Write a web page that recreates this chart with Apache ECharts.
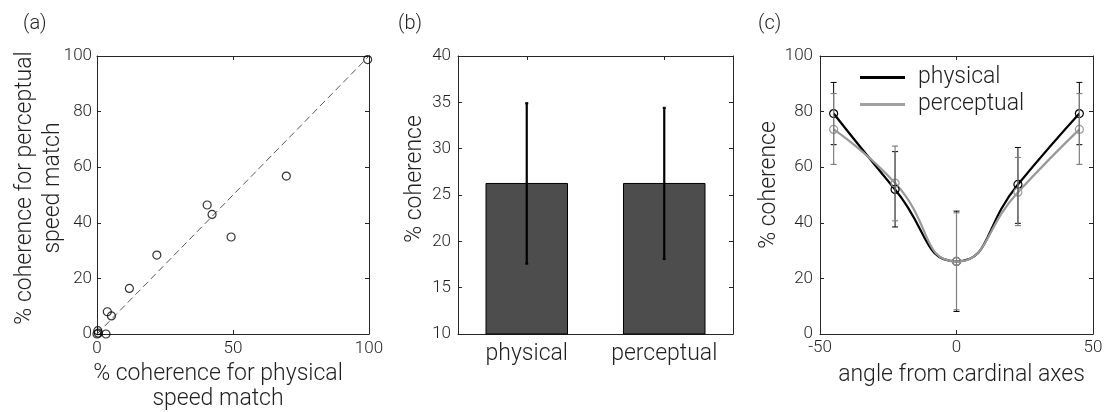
<!DOCTYPE html>
<html><head><meta charset="utf-8">
<script src="https://cdn.jsdelivr.net/npm/echarts@6/dist/echarts.min.js"></script>
<style>html,body{margin:0;padding:0;background:#fff}#c{width:1104px;height:412px}</style>
</head><body><div id="c"></div>
<script>
// ---- panel (a) data ----
const scatterPhysical   = [0, 0.3, 0.5, 3.3, 3.8, 5.3, 11.9, 22.0, 40.5, 42.3, 49.3, 69.6, 99.5];
const scatterPerceptual = [0, 1.2, 0.3, 0.0, 8.0, 6.5, 16.4, 28.4, 46.4, 43.0, 34.9, 56.8, 98.7];
const identityLine = [0, 100];
// ---- panel (b) data ----
const barCategories = ['physical', 'perceptual'];
const barMeans = [26.3, 26.3];
const barLow = [17.6, 18.1];
const barHigh = [34.9, 34.4];
// ---- panel (c) data ----
const angles = [-45, -22.5, 0, 22.5, 45];
const physMean = [79.3, 52.0, 26.1, 53.8, 79.3];
const physLow  = [68.1, 38.5, 8.1, 39.8, 68.1];
const physHigh = [90.5, 65.6, 44.2, 67.1, 90.5];
const percMean = [73.6, 54.3, 26.1, 51.0, 73.6];
const percLow  = [61.0, 40.7, 8.7, 39.0, 61.0];
const percHigh = [86.5, 67.6, 43.6, 63.5, 86.5];

const FONT = 'Roboto';
const FW = 300;
const TXT = '#1f1f1f';

function errRender(capHalf, color, lw) {
  return function (params, api) {
    const x = api.value(0);
    const lo = api.coord([x, api.value(1)]);
    const hi = api.coord([x, api.value(2)]);
    const style = { stroke: color, lineWidth: lw };
    return { type: 'group', children: [
      { type: 'line', shape: { x1: lo[0], y1: lo[1], x2: hi[0], y2: hi[1] }, style },
      { type: 'line', shape: { x1: lo[0] - capHalf, y1: lo[1], x2: lo[0] + capHalf, y2: lo[1] }, style },
      { type: 'line', shape: { x1: hi[0] - capHalf, y1: hi[1], x2: hi[0] + capHalf, y2: hi[1] }, style }
    ]};
  };
}

function ts(size, extra) {
  return Object.assign({ fontFamily: FONT, fontSize: size, fontWeight: FW, color: TXT }, extra || {});
}
function boxAxis(extra) {
  return Object.assign({
    axisLine: { show: true, onZero: false, lineStyle: { color: '#262626', width: 1 } },
    axisTick: { show: true, inside: true, length: 4, lineStyle: { color: '#262626' } },
    axisLabel: ts(17),
    splitLine: { show: false },
    nameTextStyle: ts(23)
  }, extra);
}
function mirror(extra) {
  const a = boxAxis(extra);
  a.axisLabel = { show: false };
  return a;
}

const chart = echarts.init(document.getElementById('c'), null, { renderer: 'canvas' });
chart.setOption({
  animation: false,
  backgroundColor: '#fff',
  title: [
    { text: '(a)', left: 23, top: 14, padding: 0, textStyle: ts(20) },
    { text: '(b)', left: 398, top: 14, padding: 0, textStyle: ts(20) },
    { text: '(c)', left: 758, top: 14, padding: 0, textStyle: ts(20) }
  ],
  grid: [
    { left: 97, top: 56, width: 272, height: 278, outerBoundsMode: 'none', containLabel: false },
    { left: 458, top: 56, width: 275, height: 278, outerBoundsMode: 'none', containLabel: false },
    { left: 820, top: 56, width: 273, height: 278, outerBoundsMode: 'none', containLabel: false }
  ],
  legend: {
    orient: 'vertical', left: 860, top: 66, padding: 0, icon: 'rect', itemWidth: 45, itemHeight: 3, itemGap: 4,
    selectedMode: false,
    textStyle: ts(23, { padding: [0, 0, 0, 8] }),
    data: [
      { name: 'physical', itemStyle: { color: '#000', borderWidth: 0 } },
      { name: 'perceptual', itemStyle: { color: '#a0a0a0', borderWidth: 0 } }
    ]
  },
  xAxis: [
    boxAxis({ type: 'value', gridIndex: 0, min: 0, max: 100, interval: 50, position: 'bottom',
      axisLabel: ts(17, { margin: 6 }),
      name: '% coherence for physical\nspeed match', nameLocation: 'middle', nameGap: 26,
      nameTextStyle: ts(23, { lineHeight: 25, padding: [0, 30, 0, 0] }) }),
    mirror({ type: 'value', gridIndex: 0, min: 0, max: 100, interval: 50, position: 'top' }),
    boxAxis({ type: 'category', gridIndex: 1, data: barCategories, position: 'bottom',
      axisTick: { show: true, inside: true, length: 4, alignWithLabel: true, lineStyle: { color: '#262626' } },
      axisLabel: ts(23, { margin: 9, interval: 0 }) }),
    mirror({ type: 'category', gridIndex: 1, data: barCategories, position: 'top',
      axisTick: { show: true, inside: true, length: 4, alignWithLabel: true, lineStyle: { color: '#262626' } } }),
    boxAxis({ type: 'value', gridIndex: 2, min: -50, max: 50, interval: 50, position: 'bottom',
      axisLabel: ts(17, { margin: 5 }),
      name: 'angle from cardinal axes', nameLocation: 'middle', nameGap: 30,
      nameTextStyle: ts(23, { padding: [0, 0, 0, 10] }) }),
    mirror({ type: 'value', gridIndex: 2, min: -50, max: 50, interval: 50, position: 'top' })
  ],
  yAxis: [
    boxAxis({ type: 'value', gridIndex: 0, min: 0, max: 100, interval: 20, position: 'left',
      axisLabel: ts(17, { margin: 5 }),
      name: '% coherence for perceptual\nspeed match', nameLocation: 'middle', nameGap: 30,
      nameMoveOverlap: false,
      nameTextStyle: ts(23, { lineHeight: 28, padding: [0, 0, 0, 14] }) }),
    mirror({ type: 'value', gridIndex: 0, min: 0, max: 100, interval: 20, position: 'right' }),
    boxAxis({ type: 'value', gridIndex: 1, min: 10, max: 40, interval: 5, position: 'left',
      axisLabel: ts(17, { margin: 7 }),
      name: '% coherence', nameLocation: 'middle', nameGap: 31,
      nameTextStyle: ts(23, { padding: [0, 0, 0, 32] }) }),
    mirror({ type: 'value', gridIndex: 1, min: 10, max: 40, interval: 5, position: 'right' }),
    boxAxis({ type: 'value', gridIndex: 2, min: 0, max: 100, interval: 20, position: 'left',
      axisLabel: ts(17, { margin: 7 }),
      name: '% coherence', nameLocation: 'middle', nameGap: 29,
      nameTextStyle: ts(23, { padding: [0, 0, 0, 20] }) }),
    mirror({ type: 'value', gridIndex: 2, min: 0, max: 100, interval: 20, position: 'right' })
  ],
  series: [
    { name: 'identity', type: 'line', xAxisIndex: 0, yAxisIndex: 0, symbol: 'none', silent: true,
      data: identityLine.map(v => [v, v]),
      lineStyle: { color: '#555', width: 1, type: [7, 4] }, z: 1 },
    { name: 'subjects', type: 'scatter', xAxisIndex: 0, yAxisIndex: 0, symbol: 'circle', symbolSize: 8,
      data: scatterPhysical.map((x, i) => [x, scatterPerceptual[i]]),
      itemStyle: { color: 'rgba(0,0,0,0)', borderColor: '#000', borderWidth: 1.2 }, z: 3 },
    { name: 'mean', type: 'bar', xAxisIndex: 2, yAxisIndex: 2, barWidth: '60%',
      data: barMeans,
      itemStyle: { color: '#4d4d4d', borderColor: '#000', borderWidth: 1 } },
    { name: 'mean err', type: 'custom', xAxisIndex: 2, yAxisIndex: 2,
      data: barCategories.map((c, i) => [i, barLow[i], barHigh[i]]),
      encode: { x: 0, y: [1, 2] }, renderItem: errRender(1.5, '#000', 2.2), z: 5 },
    { name: 'physical', type: 'line', xAxisIndex: 4, yAxisIndex: 4, smooth: 0.55,
      symbol: 'circle', symbolSize: 8,
      data: angles.map((a, i) => [a, physMean[i]]),
      itemStyle: { color: 'rgba(0,0,0,0)', borderColor: '#000', borderWidth: 1.2 },
      lineStyle: { color: '#000', width: 2.2 }, z: 3 },
    { name: 'perceptual', type: 'line', xAxisIndex: 4, yAxisIndex: 4, smooth: 0.55,
      symbol: 'circle', symbolSize: 8,
      data: angles.map((a, i) => [a, percMean[i]]),
      itemStyle: { color: 'rgba(0,0,0,0)', borderColor: '#999', borderWidth: 1.2 },
      lineStyle: { color: '#999', width: 2.2 }, z: 3 },
    { name: 'physical err', type: 'custom', xAxisIndex: 4, yAxisIndex: 4,
      data: angles.map((a, i) => [a, physLow[i], physHigh[i]]),
      encode: { x: 0, y: [1, 2] }, renderItem: errRender(3, '#000', 1), z: 4 },
    { name: 'perceptual err', type: 'custom', xAxisIndex: 4, yAxisIndex: 4,
      data: angles.map((a, i) => [a, percLow[i], percHigh[i]]),
      encode: { x: 0, y: [1, 2] }, renderItem: errRender(3, '#808080', 1.2), z: 5 }
  ]
});
</script>
</body></html>
